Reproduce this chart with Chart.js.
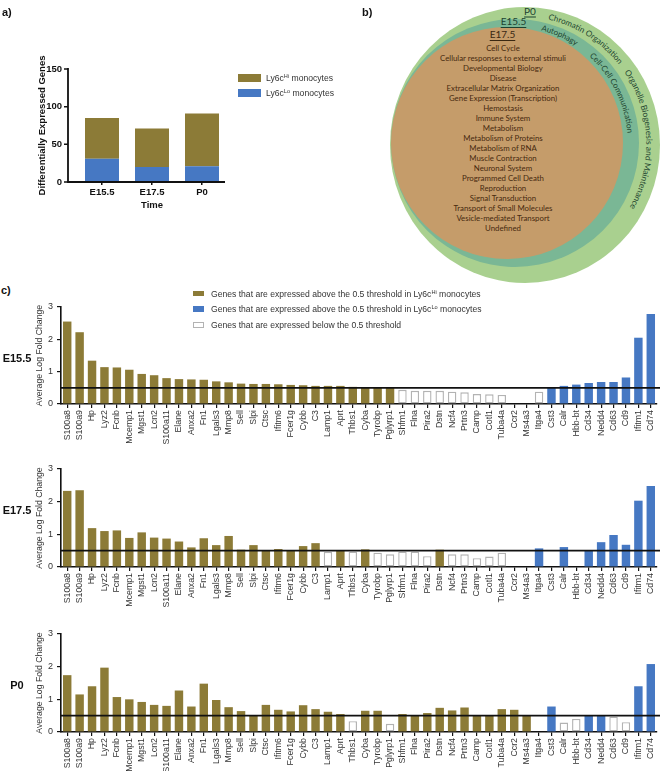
<!DOCTYPE html>
<html>
<head>
<meta charset="utf-8">
<title>Differentially expressed genes in Ly6c monocytes</title>
<script src="https://cdn.jsdelivr.net/npm/chart.js@4.4.1/dist/chart.umd.min.js"></script>
<style>
  html, body { margin:0; padding:0; background:#ffffff; }
  #fig { position:relative; width:660px; height:771px; overflow:hidden; background:#ffffff;
         font-family:"Liberation Sans", Arial, Helvetica, sans-serif; color:#222; }
  #fig canvas { position:absolute; }
  #venn { position:absolute; left:0; top:0; }
  .plabel { position:absolute; font-weight:bold; font-size:11px; color:#111; line-height:11px; }
  .rowlabel { position:absolute; font-weight:bold; font-size:11px; color:#111; width:34px; text-align:center; line-height:11px; }
  .lg-sw { position:absolute; box-sizing:border-box; }
  .lg-tx { position:absolute; white-space:nowrap; color:#333; line-height:10px; }
  .sup { font-size:5.6px; position:relative; top:-3px; }
</style>
</head>
<body>
<div id="fig">
  <svg id="venn" width="660" height="295" viewBox="0 0 660 295"></svg>
  <canvas id="chartA"></canvas>
  <canvas id="chartE155"></canvas>
  <canvas id="chartE175"></canvas>
  <canvas id="chartP0"></canvas>
  <div class="plabel" style="left:2px;top:7px;">a)</div>
  <div class="plabel" style="left:362px;top:7px;">b)</div>
  <div class="plabel" style="left:1px;top:285px;">c)</div>
  <div class="rowlabel" style="left:0px;top:353px;">E15.5</div>
  <div class="rowlabel" style="left:0px;top:505px;">E17.5</div>
  <div class="rowlabel" style="left:0px;top:680px;">P0</div>
</div>
<script>
// ================= DATA =================
// Panel a: number of differentially expressed genes per time point
const timepoints = ['E15.5', 'E17.5', 'P0'];
const degLy6cLo = [31, 20, 21];
const degLy6cHi = [54, 51, 70];
const degTicks = [0, 50, 100, 150];

// Panel b: Reactome pathway groups
const pathwaysShared = ['Cell Cycle', 'Cellular responses to external stimuli', 'Developmental Biology', 'Disease',
  'Extracellular Matrix Organization', 'Gene Expression (Transcription)', 'Hemostasis', 'Immune System',
  'Metabolism', 'Metabolism of Proteins', 'Metabolism of RNA', 'Muscle Contraction', 'Neuronal System',
  'Programmed Cell Death', 'Reproduction', 'Signal Transduction', 'Transport of Small Molecules',
  'Vesicle-mediated Transport', 'Undefined'];
const pathwaysE155 = ['Autophagy', 'Cell-Cell Communication'];
const pathwaysP0 = ['Chromatin Organization', 'Organelle Biogenesis and Maintenance'];
const setNames = ['P0', 'E15.5', 'E17.5'];

// Panel c: genes and average log fold change
const genes = ['S100a8','S100a9','Hp','Lyz2','Fcnb','Mcemp1','Mgst1','Lcn2','S100a11','Elane',
  'Anxa2','Fn1','Lgals3','Mmp8','Sell','Slpi','Ctsc','Ifitm6','Fcer1g','Cybb',
  'C3','Lamp1','Aprt','Thbs1','Cyba','Tyrobp','Pglyrp1','Shfm1','Flna','Pira2',
  'Dstn','Ncf4','Prtn3','Camp','Cotl1','Tuba4a','Ccr2','Ms4a3','Itga4','Cst3',
  'Calr','Hbb-bt','Cd34','Nedd4','Cd63','Cd9','Ifitm1','Cd74'];
const lfcE155 = [2.55, 2.22, 1.34, 1.14, 1.13, 1.06, 0.93, 0.89, 0.80, 0.77,
  0.76, 0.75, 0.70, 0.67, 0.63, 0.62, 0.62, 0.61, 0.59, 0.58,
  0.56, 0.56, 0.56, 0.53, 0.52, 0.52, 0.52, 0.44, 0.41, 0.41,
  0.41, 0.38, 0.36, 0.31, 0.30, 0.28, null, null, 0.38, 0.52,
  0.56, 0.60, 0.65, 0.68, 0.68, 0.82, 2.05, 2.78];
const lfcE175 = [2.33, 2.35, 1.19, 1.10, 1.12, 0.89, 1.06, 0.90, 0.87, 0.78,
  0.60, 0.88, 0.67, 0.95, 0.53, 0.67, 0.50, 0.55, 0.50, 0.64,
  0.73, 0.46, 0.51, 0.47, 0.54, 0.44, 0.39, 0.47, 0.47, 0.33,
  0.53, 0.39, 0.39, 0.27, 0.32, 0.44, null, null, 0.57, null,
  0.61, null, 0.51, 0.76, 0.98, 0.68, 2.03, 2.48];
const lfcP0 = [1.74, 1.15, 1.40, 1.97, 1.07, 1.00, 0.92, 0.83, 0.80, 1.27,
  0.78, 1.48, 0.98, 0.76, 0.64, 0.50, 0.83, 0.68, 0.63, 0.82,
  0.70, 0.62, 0.55, 0.33, 0.65, 0.65, 0.25, 0.55, 0.52, 0.58,
  0.74, 0.66, 0.75, 0.51, 0.51, 0.70, 0.68, 0.51, null, 0.78,
  0.29, 0.40, 0.51, 0.51, 0.47, 0.30, 1.40, 2.08];
// H = above threshold in Ly6cHi, L = above threshold in Ly6cLo, B = below threshold, - = not detected
const classE155 = 'HHHHHHHHHH HHHHHHHHHH HHHHHHHBBB BBBBBB--BL LLLLLLLL'.split(' ').join('').split('');
const classE175 = 'HHHHHHHHHH HHHHHHHHHH HBHBHBBBBB HBBBBB--L- L-LLLLLL'.split(' ').join('').split('');
const classP0   = 'HHHHHHHHHH HHHHHHHHHH HHHBHHBHHH HHHHHHHH-L BBLLBBLL'.split(' ').join('').split('');
const lfcTicks = [0, 1, 2, 3];
const THRESHOLD = 0.5;

// ================= STYLE =================
const GOLD = '#8c7b37', BLUE = '#4678c3', OPEN_EDGE = '#b3b3b3';
Chart.defaults.font.family = '"Liberation Sans", Arial, Helvetica, sans-serif';
Chart.defaults.color = '#333';
Chart.defaults.animation = false;

// ================= PANEL A =================
const AXIS_X_A = 68;
const axesA = {
  id: 'axesA',
  afterDraw(chart) {
    const ctx = chart.ctx, y = chart.scales.y;
    const yTop = y.getPixelForValue(degTicks[degTicks.length - 1]);
    const yBot = y.getPixelForValue(0);
    ctx.save();
    ctx.strokeStyle = '#111'; ctx.lineWidth = 1.8;
    ctx.beginPath();
    ctx.moveTo(AXIS_X_A, yTop - 0.9);
    ctx.lineTo(AXIS_X_A, yBot);
    ctx.lineTo(chart.chartArea.right - 2, yBot);
    ctx.stroke();
    ctx.lineWidth = 1.5;
    ctx.beginPath();
    degTicks.forEach(v => { const py = y.getPixelForValue(v); ctx.moveTo(AXIS_X_A - 4, py); ctx.lineTo(AXIS_X_A, py); });
    ctx.stroke();
    ctx.restore();
  }
};
(function () {
  const cv = document.getElementById('chartA');
  cv.width = 240; cv.height = 215; cv.style.left = '0px'; cv.style.top = '0px';
  new Chart(cv, {
    type: 'bar',
    data: {
      labels: timepoints,
      datasets: [
        { label: 'Ly6cLo monocytes', data: degLy6cLo, backgroundColor: BLUE, barPercentage: 0.68, categoryPercentage: 1 },
        { label: 'Ly6cHi monocytes', data: degLy6cHi, backgroundColor: GOLD, barPercentage: 0.68, categoryPercentage: 1 }
      ]
    },
    options: {
      responsive: false, maintainAspectRatio: false, devicePixelRatio: 1, animation: false,
      layout: { padding: { top: 69, right: 13, bottom: 0, left: 0 } },
      plugins: { legend: { display: false }, tooltip: { enabled: false } },
      scales: {
        x: {
          stacked: true,
          grid: { display: true, drawOnChartArea: false, drawTicks: true, tickLength: 3, color: '#111', lineWidth: 1.5, offset: false },
          border: { display: false },
          ticks: { color: '#111', padding: 2, font: { size: 9.5, weight: 'bold' } },
          title: { display: true, text: 'Time', color: '#111', font: { size: 9.5, weight: 'bold' }, padding: { top: 0, bottom: 4.3 } },
          afterFit(s) { s.height = 33; s.paddingLeft = 0; s.paddingRight = 0; }
        },
        y: {
          stacked: true, min: 0, max: 150,
          ticks: { stepSize: 50, padding: 15, color: '#111', font: { size: 9.5, weight: 'bold' } },
          grid: { display: false, drawTicks: false },
          border: { display: false },
          title: { display: true, text: 'Differentially Expressed Genes', color: '#111', font: { size: 9.5, weight: 'bold' }, padding: { top: 36.3, bottom: 0 } },
          afterFit(s) { s.width = 77; s.paddingTop = 0; s.paddingBottom = 0; }
        }
      }
    },
    plugins: [axesA]
  });
})();

// ================= LEGENDS =================
const fig = document.getElementById('fig');
function legendRow(x, yc, w, h, fill, edge, textX, html, fs) {
  const sw = document.createElement('div');
  sw.className = 'lg-sw';
  sw.style.left = x + 'px'; sw.style.top = (yc - h / 2) + 'px';
  sw.style.width = w + 'px'; sw.style.height = h + 'px';
  sw.style.background = fill;
  if (edge) sw.style.border = '1px solid ' + edge;
  fig.appendChild(sw);
  const tx = document.createElement('div');
  tx.className = 'lg-tx';
  tx.style.left = textX + 'px'; tx.style.top = (yc - 5) + 'px'; tx.style.fontSize = fs + 'px';
  tx.innerHTML = html;
  fig.appendChild(tx);
}
legendRow(238, 77.5, 23, 8, GOLD, null, 266, 'Ly6c<span class="sup">Hi</span> monocytes', 8.6);
legendRow(238, 93, 23, 8, BLUE, null, 266, 'Ly6c<span class="sup">Lo</span> monocytes', 8.6);
legendRow(193, 293.5, 11, 5.5, GOLD, null, 211, 'Genes that are expressed above the 0.5 threshold in Ly6c<span class="sup">Hi</span> monocytes', 8.6);
legendRow(193, 309, 11, 5.5, BLUE, null, 211, 'Genes that are expressed above the 0.5 threshold in Ly6c<span class="sup">Lo</span> monocytes', 8.6);
legendRow(193, 324.5, 11, 6, '#ffffff', OPEN_EDGE, 211, 'Genes that are expressed below the 0.5 threshold', 8.6);

// ================= PANEL C =================
const thresholdLine = {
  id: 'thresholdLine',
  afterDatasetsDraw(chart) {
    const y = chart.scales.y.getPixelForValue(THRESHOLD);
    const ctx = chart.ctx;
    ctx.save();
    ctx.strokeStyle = '#111'; ctx.lineWidth = 1.6;
    ctx.beginPath(); ctx.moveTo(chart.chartArea.left, y); ctx.lineTo(chart.width, y); ctx.stroke();
    ctx.restore();
  }
};
function makeGeneChart(canvasId, values, classes, geom) {
  const fills = classes.map(c => c === 'H' ? GOLD : c === 'L' ? BLUE : '#ffffff');
  const edges = classes.map(c => c === 'B' ? OPEN_EDGE : 'rgba(0,0,0,0)');
  const widths = classes.map(c => c === 'B' ? 1.4 : 0);
  const data = values.map((v, i) => classes[i] === '-' ? null : v);
  const cv = document.getElementById(canvasId);
  cv.width = 660; cv.height = geom.h; cv.style.left = '0px'; cv.style.top = geom.top + 'px';
  return new Chart(cv, {
    type: 'bar',
    data: { labels: genes, datasets: [{ data, backgroundColor: fills, borderColor: edges, borderWidth: widths,
      borderSkipped: false, barPercentage: 0.68, categoryPercentage: 1 }] },
    options: {
      responsive: false, maintainAspectRatio: false, devicePixelRatio: 1, animation: false,
      layout: { padding: { top: geom.padTop, right: 3, bottom: 0, left: 0 } },
      plugins: { legend: { display: false }, tooltip: { enabled: false } },
      scales: {
        x: {
          grid: { display: true, drawOnChartArea: false, drawTicks: true, tickLength: 4, color: '#111', lineWidth: 1.2, offset: false },
          border: { display: true, color: '#111', width: 1.6 },
          ticks: { autoSkip: false, maxRotation: 90, minRotation: 90, padding: 2, color: '#333', font: { size: 8.8 } },
          afterFit(s) { s.height = geom.axisH; s.paddingLeft = 0; s.paddingRight = 0; }
        },
        y: {
          min: lfcTicks[0], max: lfcTicks[lfcTicks.length - 1],
          ticks: { stepSize: 1, padding: 4, color: '#333', font: { size: 9 } },
          grid: { display: true, drawOnChartArea: false, drawTicks: true, tickLength: 4, color: '#111', lineWidth: 1.2 },
          border: { display: true, color: '#111', width: 1.6 },
          title: { display: true, text: 'Average Log Fold Change', color: '#333', font: { size: 8.7 }, padding: { top: 34.8, bottom: 0 } },
          afterFit(s) { s.width = 61; s.paddingTop = 0; s.paddingBottom = 0; }
        }
      }
    },
    plugins: [thresholdLine]
  });
}
makeGeneChart('chartE155', lfcE155, classE155, { top: 300, padTop: 7, h: 156, axisH: 52 });
makeGeneChart('chartE175', lfcE175, classE175, { top: 462, padTop: 7, h: 157, axisH: 52 });
makeGeneChart('chartP0', lfcP0, classP0, { top: 627, padTop: 7, h: 144, axisH: 39 });

// ================= PANEL B (nested sets) =================
(function () {
  const svg = document.getElementById('venn');
  const NS = 'http://www.w3.org/2000/svg';
  function mk(tag, attrs, parent) {
    const e = document.createElementNS(NS, tag);
    for (const k in attrs) e.setAttribute(k, attrs[k]);
    (parent || svg).appendChild(e);
    return e;
  }
  const OUT = { cx: 525, cy: 145, rx: 135, ry: 138 };
  const MID = { cx: 515, cy: 143, r: 124 };
  const INN = { cx: 507, cy: 143, r: 116 };
  mk('ellipse', { cx: OUT.cx, cy: OUT.cy, rx: OUT.rx, ry: OUT.ry, fill: '#a9d08f' });
  mk('circle', { cx: MID.cx, cy: MID.cy, r: MID.r, fill: '#7ab795' });
  mk('circle', { cx: INN.cx, cy: INN.cy, r: INN.r, fill: '#c59c6a' });

  function distToCircle(ox, oy, dx, dy, c) {
    const fx = ox - c.cx, fy = oy - c.cy, b = fx * dx + fy * dy, cc = fx * fx + fy * fy - c.r * c.r;
    return -b + Math.sqrt(b * b - cc);
  }
  function distToEllipse(ox, oy, dx, dy, e) {
    const fx = (ox - e.cx) / e.rx, fy = (oy - e.cy) / e.ry, ddx = dx / e.rx, ddy = dy / e.ry;
    const A = ddx * ddx + ddy * ddy, B = 2 * (fx * ddx + fy * ddy), C = fx * fx + fy * fy - 1;
    return (-B + Math.sqrt(B * B - 4 * A * C)) / (2 * A);
  }
  const defs = mk('defs', {});
  let pid = 0;
  function ringText(text, band, a0, a1, color) {
    const capH = 6.4;
    const pts = [];
    let len = 0;
    for (let a = a0; a <= a1 + 4.001; a += 0.5) {
      const t = a * Math.PI / 180, dx = Math.cos(t), dy = Math.sin(t);
      let tin, tout;
      if (band === 'outer') { tin = MID.r; tout = distToEllipse(MID.cx, MID.cy, dx, dy, OUT); }
      else { tin = distToCircle(MID.cx, MID.cy, dx, dy, INN); tout = MID.r; }
      const r = tin + Math.max(1.0, (tout - tin - capH) / 2);
      const p = [MID.cx + r * dx, MID.cy + r * dy];
      if (pts.length && a <= a1 + 0.001) { const q = pts[pts.length - 1]; len += Math.hypot(p[0] - q[0], p[1] - q[1]); }
      pts.push(p);
    }
    const id = 'ring' + (pid++);
    mk('path', { id, d: 'M' + pts.map(p => p[0].toFixed(2) + ',' + p[1].toFixed(2)).join(' L'), fill: 'none' }, defs);
    const tx = mk('text', { 'font-family': 'Lato, "Open Sans", sans-serif', 'font-size': 10, fill: color });
    const tp = mk('textPath', { href: '#' + id }, tx);
    tp.setAttributeNS('http://www.w3.org/1999/xlink', 'xlink:href', '#' + id);
    tp.textContent = text;
    const natural = tx.getComputedTextLength();
    if (natural > 0) tx.setAttribute('font-size', (10 * len / natural).toFixed(2));
  }
  const ringColor = '#1f4630';
  ringText(pathwaysP0[0], 'outer', -75, -37, ringColor);
  ringText(pathwaysP0[1], 'outer', -33, 29.5, ringColor);
  ringText(pathwaysE155[0], 'middle', -77, -58, ringColor);
  ringText(pathwaysE155[1], 'middle', -49.5, -5, ringColor);

  // set names (underlined)
  const nameStyle = [
    { x: 530, y: 10.5, color: '#1b4231' },
    { x: 513.5, y: 21, color: '#1b4231' },
    { x: 502.5, y: 34, color: '#3a2812' }
  ];
  setNames.forEach((n, i) => {
    const s = nameStyle[i];
    const t = mk('text', { x: s.x, y: s.y, 'text-anchor': 'middle', 'dominant-baseline': 'central',
      'font-family': 'Lato, "Open Sans", sans-serif', 'font-size': 10, fill: s.color, 'text-decoration': 'underline' });
    t.textContent = n;
  });

  // shared pathways list
  const lines = pathwaysShared.map((p, i) => {
    const t = mk('text', { x: 503, y: 48.3 + i * 10, 'text-anchor': 'middle', 'dominant-baseline': 'central',
      'font-family': 'Lato, "Open Sans", sans-serif', 'font-size': 10, fill: '#45290f' });
    t.textContent = p;
    return t;
  });
  const widest = lines[1].getComputedTextLength();
  const fs = widest > 0 ? (10 * 126 / widest) : 8.4;
  lines.forEach(t => t.setAttribute('font-size', fs.toFixed(2)));
})();
</script>
</body>
</html>
